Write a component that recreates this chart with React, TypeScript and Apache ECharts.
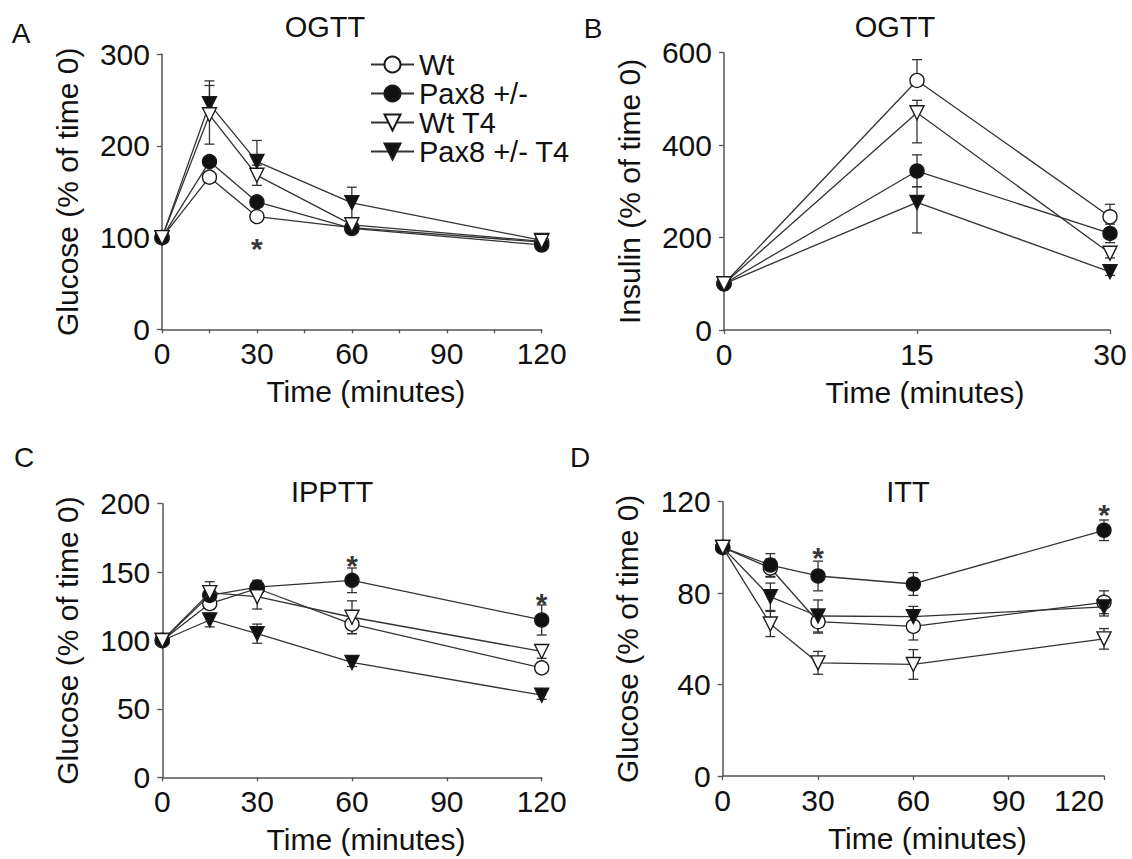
import React, { useEffect, useRef } from 'react';
import * as echarts from 'echarts';

const seriesNames = ['Wt', 'Pax8 +/-', 'Wt T4', 'Pax8 +/- T4'];

// Panel A: OGTT glucose (% of time 0)
const timesA = [0, 15, 30, 60, 120];
const glucOgttWt = [100, 166, 123, 111, 95];
const glucOgttPax8 = [100, 183, 139, 110, 92];
const glucOgttWtT4 = [100, 234, 168, 114, 96];
const glucOgttPax8T4 = [100, 246, 183, 138, 97];
// error bars as [down, up]
const glucOgttWtErr = [[0, 0], [4, 4], [4, 4], [3, 3], [3, 3]];
const glucOgttPax8Err = [[0, 0], [5, 5], [5, 5], [3, 3], [3, 3]];
const glucOgttWtT4Err = [[0, 0], [32, 32], [11, 11], [4, 4], [4, 4]];
const glucOgttPax8T4Err = [[0, 0], [0, 25], [0, 23], [17, 17], [4, 6]];
const sigA = [[30, 97]];

// Panel B: OGTT insulin (% of time 0)
const timesB = [0, 15, 30];
const insOgttWt = [100, 540, 245];
const insOgttPax8 = [100, 344, 209];
const insOgttWtT4 = [100, 470, 166];
const insOgttPax8T4 = [100, 276, 126];
const insOgttWtErr = [[0, 0], [8, 45], [10, 27]];
const insOgttPax8Err = [[0, 0], [34, 35], [20, 20]];
const insOgttWtT4Err = [[0, 0], [65, 27], [10, 10]];
const insOgttPax8T4Err = [[0, 0], [66, 34], [8, 8]];

// Panel C: IPPTT glucose (% of time 0)
const timesC = [0, 15, 30, 60, 120];
const glucIppttWt = [100, 127, 138, 112, 80];
const glucIppttPax8 = [100, 133, 139, 144, 115];
const glucIppttWtT4 = [100, 135, 132, 117, 92];
const glucIppttPax8T4 = [100, 115, 105, 84, 60];
const glucIppttWtErr = [[0, 0], [4, 4], [4, 4], [7, 7], [4, 4]];
const glucIppttPax8Err = [[0, 0], [4, 4], [5, 5], [9, 9], [11, 11]];
const glucIppttWtT4Err = [[0, 0], [8, 8], [9, 9], [12, 12], [5, 5]];
const glucIppttPax8T4Err = [[0, 0], [5, 5], [7, 7], [3, 3], [3, 3]];
const sigC = [[60, 161], [120, 133]];

// Panel D: ITT glucose (% of time 0)
const timesD = [0, 15, 30, 60, 120];
const glucIttWt = [100, 91, 67.5, 65.5, 76];
const glucIttPax8 = [100, 92.3, 87.5, 84, 107.5];
const glucIttWtT4 = [100, 66.5, 49.5, 48.8, 60];
const glucIttPax8T4 = [100, 78.4, 70, 69.7, 74];
const glucIttWtErr = [[0, 0], [4, 4], [5, 5], [6, 6], [5, 5]];
const glucIttPax8Err = [[0, 0], [5, 5], [6.5, 6.5], [5, 5], [4.5, 4.5]];
const glucIttWtT4Err = [[0, 0], [5.5, 5.5], [5, 5], [6.5, 6.5], [4.5, 4.5]];
const glucIttPax8T4Err = [[0, 0], [6, 6], [7, 7], [4.5, 4.5], [4, 4]];
const sigD = [[30, 99], [120, 118]];

const FONT = '"Liberation Sans", Arial, Helvetica, sans-serif';
const FS = 30;
const TXT = '#111';
const AX = '#555';

const markerStyles = [
  { symbol: 'circle', rotate: 0, fill: '#ffffff' },
  { symbol: 'circle', rotate: 0, fill: '#111111' },
  { symbol: 'triangle', rotate: 180, fill: '#ffffff' },
  { symbol: 'triangle', rotate: 180, fill: '#111111' },
];
// drawing order (last on top): Wt, Pax8, Pax8 T4, Wt T4
const drawOrder = [0, 1, 3, 2];

type Panel = {
  times: number[];
  values: number[][];
  errs: number[][][];
  sig: number[][];
};

const panels: Panel[] = [
  {
    times: timesA,
    values: [glucOgttWt, glucOgttPax8, glucOgttWtT4, glucOgttPax8T4],
    errs: [glucOgttWtErr, glucOgttPax8Err, glucOgttWtT4Err, glucOgttPax8T4Err],
    sig: sigA,
  },
  {
    times: timesB,
    values: [insOgttWt, insOgttPax8, insOgttWtT4, insOgttPax8T4],
    errs: [insOgttWtErr, insOgttPax8Err, insOgttWtT4Err, insOgttPax8T4Err],
    sig: [],
  },
  {
    times: timesC,
    values: [glucIppttWt, glucIppttPax8, glucIppttWtT4, glucIppttPax8T4],
    errs: [glucIppttWtErr, glucIppttPax8Err, glucIppttWtT4Err, glucIppttPax8T4Err],
    sig: sigC,
  },
  {
    times: timesD,
    values: [glucIttWt, glucIttPax8, glucIttWtT4, glucIttPax8T4],
    errs: [glucIttWtErr, glucIttPax8Err, glucIttWtT4Err, glucIttPax8T4Err],
    sig: sigD,
  },
];

const grids = [
  { left: 162, top: 54.3, width: 379.7, height: 275 },
  { left: 724, top: 52.7, width: 386, height: 277.3 },
  { left: 162.3, top: 503.7, width: 379.4, height: 273.6 },
  { left: 722.7, top: 501.7, width: 381.3, height: 274.3 },
];

const xCfg = [
  { max: 120, interval: 15, every: 30, nameShift: 28, hideMax: false },
  { max: 30, interval: 15, every: 15, nameShift: 16, hideMax: false },
  { max: 120, interval: 30, every: 30, nameShift: 28, hideMax: false },
  { max: 120, interval: 30, every: 30, nameShift: 28, hideMax: true },
];

const yCfg = [
  { max: 300, interval: 100, name: 'Glucose (% of time 0)' },
  { max: 600, interval: 200, name: 'Insulin (% of time 0)' },
  { max: 200, interval: 50, name: 'Glucose (% of time 0)' },
  { max: 120, interval: 40, name: 'Glucose (% of time 0)' },
];

const titles = [
  { text: 'OGTT', x: 325, y: 27 },
  { text: 'OGTT', x: 895, y: 27 },
  { text: 'IPPTT', x: 332, y: 492 },
  { text: 'ITT', x: 908, y: 492 },
];

const letters = [
  { text: 'A', x: 21, y: 33 },
  { text: 'B', x: 593, y: 28 },
  { text: 'C', x: 24, y: 457 },
  { text: 'D', x: 580, y: 457 },
];

const num = (v: any) => Math.round(Number(v) * 1000) / 1000;

function errorRender(params: any, api: any) {
  const x = api.value(0);
  const y = api.value(1);
  const lo = api.value(2);
  const hi = api.value(3);
  const c = api.coord([x, y]);
  const cap = 5;
  const style = { stroke: '#333', lineWidth: 1.3 };
  const children: any[] = [];
  if (hi > 0) {
    const p = api.coord([x, y + hi]);
    children.push({ type: 'line', shape: { x1: c[0], y1: c[1], x2: p[0], y2: p[1] }, style });
    children.push({ type: 'line', shape: { x1: p[0] - cap, y1: p[1], x2: p[0] + cap, y2: p[1] }, style });
  }
  if (lo > 0) {
    const p = api.coord([x, y - lo]);
    children.push({ type: 'line', shape: { x1: c[0], y1: c[1], x2: p[0], y2: p[1] }, style });
    children.push({ type: 'line', shape: { x1: p[0] - cap, y1: p[1], x2: p[0] + cap, y2: p[1] }, style });
  }
  return { type: 'group', children };
}

function buildOption() {
  const series: any[] = [];
  panels.forEach((p, pi) => {
    p.values.forEach((vals, si) => {
      series.push({
        type: 'custom',
        xAxisIndex: pi,
        yAxisIndex: pi,
        renderItem: errorRender,
        encode: { x: 0, y: 1 },
        data: p.times.map((t, j) => [t, vals[j], p.errs[si][j][0], p.errs[si][j][1]]),
        clip: false,
        silent: true,
        z: 2,
      });
    });
    drawOrder.forEach((si, k) => {
      const vals = p.values[si];
      const m = markerStyles[si];
      series.push({
        type: 'line',
        name: seriesNames[si],
        xAxisIndex: pi,
        yAxisIndex: pi,
        data: p.times.map((t, j) => [t, vals[j]]),
        symbol: m.symbol,
        symbolSize: 14,
        symbolRotate: m.rotate,
        showAllSymbol: true,
        itemStyle: { color: m.fill, borderColor: '#1a1a1a', borderWidth: 1.4, opacity: 1 },
        lineStyle: { color: '#333', width: 1.3 },
        clip: false,
        z: 3 + k,
      });
    });
    if (p.sig.length) {
      series.push({
        type: 'scatter',
        xAxisIndex: pi,
        yAxisIndex: pi,
        data: p.sig,
        symbolSize: 1,
        itemStyle: { color: 'rgba(0,0,0,0)' },
        label: {
          show: true,
          formatter: '*',
          position: 'inside',
          fontSize: 30,
          fontWeight: 'bold',
          fontFamily: FONT,
          color: '#000',
          offset: [0, 8],
        },
        silent: true,
        z: 10,
      });
    }
  });

  const xAxes: any[] = xCfg.map((c, i) => ({
    type: 'value',
    gridIndex: i,
    position: 'bottom',
    min: 0,
    max: c.max,
    interval: c.interval,
    name: 'Time (minutes)',
    nameLocation: 'middle',
    nameGap: 47,
    nameTextStyle: { fontSize: FS, color: TXT, fontFamily: FONT, padding: [0, 0, 0, c.nameShift] },
    axisLine: { lineStyle: { color: AX, width: 1.5 } },
    axisTick: { show: true, length: 4, lineStyle: { color: AX, width: 1.3 } },
    axisLabel: {
      fontSize: FS,
      color: TXT,
      fontFamily: FONT,
      margin: 9,
      formatter: (v: any) => {
        const n = num(v);
        if (n % c.every !== 0) return '';
        if (c.hideMax && n === c.max) return '';
        return String(n);
      },
    },
    splitLine: { show: false },
  }));
  // Panel D: last tick label right-aligned to its tick, as in the reference
  xAxes.push({
    type: 'value',
    gridIndex: 3,
    position: 'bottom',
    offset: 0,
    min: 0,
    max: xCfg[3].max,
    interval: xCfg[3].interval,
    axisLine: { show: false },
    axisTick: { show: false },
    axisLabel: {
      fontSize: FS,
      color: TXT,
      fontFamily: FONT,
      margin: 9,
      align: 'right',
      formatter: (v: any) => (num(v) === xCfg[3].max ? String(xCfg[3].max) : ''),
    },
    splitLine: { show: false },
  });

  return {
    animation: false,
    backgroundColor: '#ffffff',
    textStyle: { fontFamily: FONT },
    grid: grids.map((g) => ({ ...g, containLabel: false, outerBoundsMode: 'none' })),
    xAxis: xAxes,
    yAxis: yCfg.map((c, i) => ({
      type: 'value',
      gridIndex: i,
      min: 0,
      max: c.max,
      interval: c.interval,
      name: c.name,
      nameLocation: 'middle',
      nameGap: 80,
      nameTextStyle: { fontSize: FS, color: TXT, fontFamily: FONT },
      axisLine: { show: true, lineStyle: { color: AX, width: 1.5 } },
      axisTick: { show: true, length: 5, lineStyle: { color: AX, width: 1.3 } },
      axisLabel: { fontSize: FS, color: TXT, fontFamily: FONT, margin: 12 },
      splitLine: { show: false },
    })),
    legend: {
      data: seriesNames,
      orient: 'vertical',
      left: 365,
      top: 45,
      itemWidth: 43,
      itemHeight: 20,
      itemGap: 0,
      textStyle: { fontSize: 29, color: TXT, fontFamily: FONT },
      selectedMode: false,
    },
    graphic: [
      ...titles.map((t) => ({
        type: 'text',
        x: t.x,
        y: t.y,
        style: { text: t.text, font: `29px ${FONT}`, fill: TXT, align: 'center', verticalAlign: 'middle' },
      })),
      ...letters.map((t) => ({
        type: 'text',
        x: t.x,
        y: t.y,
        style: { text: t.text, font: `28px ${FONT}`, fill: TXT, align: 'center', verticalAlign: 'middle' },
      })),
    ],
    series,
  };
}

export default function App() {
  const ref = useRef<HTMLDivElement>(null);
  useEffect(() => {
    if (!ref.current) return;
    const chart = echarts.init(ref.current, undefined, { renderer: 'svg' });
    chart.setOption(buildOption() as any);
    return () => chart.dispose();
  }, []);
  return (
    <div
      ref={ref}
      style={{ position: 'fixed', left: 0, top: 0, width: 1132, height: 859, background: '#fff' }}
    />
  );
}
